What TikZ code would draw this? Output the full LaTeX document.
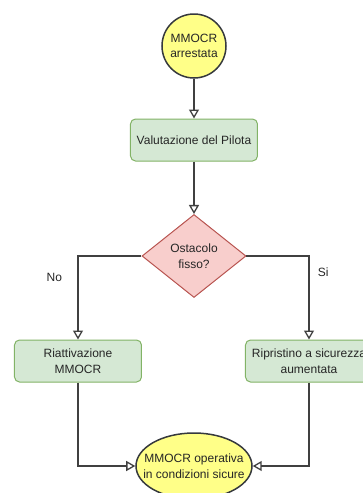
\documentclass[tikz,border=0pt]{standalone}
\usepackage{fontspec}
\setmainfont{Liberation Sans}
\usetikzlibrary{shapes.geometric, arrows.meta}

\definecolor{termfill}{HTML}{FFFF88}
\definecolor{termdraw}{HTML}{36393D}
\definecolor{procfill}{HTML}{D5E8D4}
\definecolor{procdraw}{HTML}{82B366}
\definecolor{decfill}{HTML}{F8CECC}
\definecolor{decdraw}{HTML}{B85450}
\definecolor{linecol}{HTML}{404040}

\tikzstyle{startstop} = [circle, 
minimum size=64pt, 
inner sep=0pt,
align=center, 
draw=termdraw, 
line width=1.5pt,
fill=termfill]
\tikzstyle{endstate} = [ellipse, 
minimum width=116pt, 
minimum height=66pt,
inner xsep=-10pt, inner ysep=0pt,
align=center, 
draw=termdraw, 
line width=1.5pt,
fill=termfill]
\tikzstyle{process} = [rectangle, rounded corners=5pt,
minimum width=127pt, 
minimum height=42pt, 
align=center, 
draw=procdraw, 
line width=1pt,
fill=procfill]
\tikzstyle{decision} = [diamond, 
minimum width=104pt, 
minimum height=83pt,
inner sep=0pt,
align=center, 
draw=decdraw, 
line width=1pt,
fill=decfill]
\tikzstyle{arrow} = [linecol, line width=1.3pt, -{Triangle[open, length=9pt, width=10pt]}]

\begin{document}
\begin{tikzpicture}[node distance=94pt, font=\fontsize{12}{15.5}\selectfont, text=black!85]

\useasboundingbox (-194pt,-447pt) rectangle (169pt,46pt);

\node (stopped) [startstop] at (0,0) {MMOCR\\arrestata};
\node (evaluation) [process, below of=stopped] {Valutazione del Pilota};

\node (obstacle) [decision, below of=evaluation, yshift=-22pt] {Ostacolo\\fisso?};

\node (reactivate) [process, below of=obstacle, xshift=-116pt, yshift=-11pt] 
                   {Riattivazione\\MMOCR};
\node (restore) [process, below of=obstacle, xshift=115pt, yshift=-11pt] 
                {Ripristino a sicurezza\\aumentata};

\node (operative) [endstate, below of=obstacle, yshift=-116pt] 
                  {MMOCR operativa\\in condizioni sicure};

\draw [arrow] (stopped) -- (evaluation);
\draw [arrow] (evaluation) -- (obstacle);
\draw [arrow] (obstacle) -| node[pos=0.63, left=12pt, text=black!85] {No} (reactivate);
\draw [arrow] (obstacle) -| node[pos=0.6, right=5pt, text=black!85] {Si} (restore);
\draw [arrow] (reactivate) |- (operative);
\draw [arrow] (restore) |- (operative);

\end{tikzpicture}
\end{document}
